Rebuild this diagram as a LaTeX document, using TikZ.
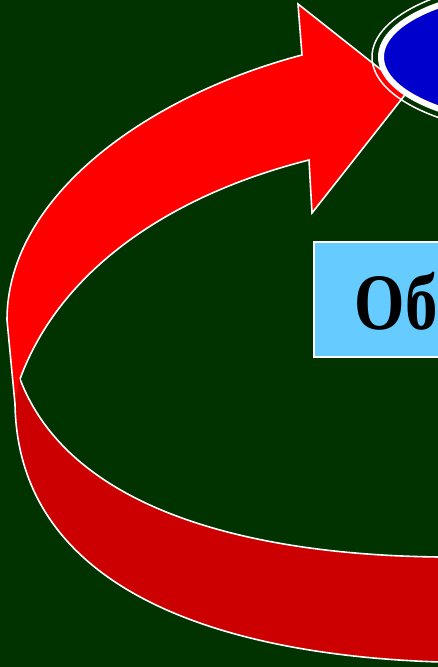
\documentclass[tikz,border=0pt]{standalone}
\usepackage{fontspec}
\usepackage{graphicx}
\usepackage{xcolor}
\usepackage{tikz}
\usetikzlibrary{positioning}

\newfontfamily\slideserif{Liberation Serif}

\definecolor{slidegreen}{HTML}{003300}
\definecolor{arrowred}{HTML}{FF0000}
\definecolor{bandred}{HTML}{CC0000}
\definecolor{ovalblue}{HTML}{0000CC}
\definecolor{boxblue}{HTML}{66CCFF}

\begin{document}
\begin{tikzpicture}[
   x=1pt,y=-1pt,
   outline/.style={draw=white,line width=1.6pt,line join=miter},
   labelbox/.style={draw=white,fill=boxblue,line width=1.5pt,anchor=north west,
                    minimum width=180,minimum height=115,inner sep=0pt},
   word/.style={font=\slideserif\bfseries\fontsize{80}{88}\selectfont,
                anchor=base west,inner sep=0pt,text=black}]
  \useasboundingbox (0,0) rectangle (438,667);
  \fill[slidegreen] (0,0) rectangle (438,667);
  \clip (0,0) rectangle (438,667);
  % lower band, going round under the picture
  \filldraw[outline,fill=bandred]
    (15,404) .. controls (18,590) and (220,655) .. (440,662)
    -- (470,662) -- (470,557) -- (440,557)
    .. controls (250,555) and (70,510) .. (20,379);
  % upper arrow
  \filldraw[outline,fill=arrowred]
    (20,379) .. controls (60,270) and (170,195) .. (309,160)
    -- (312,213) -- (408,91) -- (298,4) -- (302,55)
    .. controls (150,95) and (7,195) .. (7,320) -- (15,404);
  % oval
  \draw[white,line width=1.5pt] (552,57) ellipse [x radius=180,y radius=78];
  \filldraw[fill=ovalblue,draw=white,line width=6pt] (552,57) ellipse [x radius=171,y radius=69];
  \node[labelbox] (tbox) at (313,241) {};
  \node[word] (tword) at (354.4,329) {\scalebox{0.81}[1]{Об}};
\end{tikzpicture}
\end{document}
